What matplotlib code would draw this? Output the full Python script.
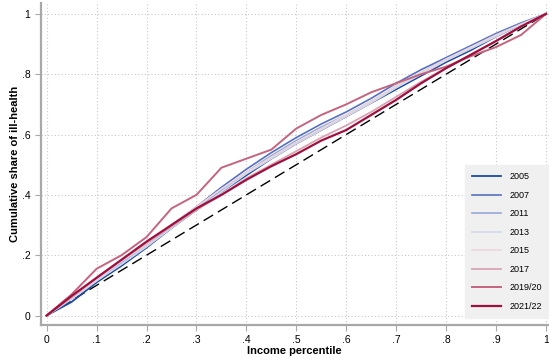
import numpy as np
import matplotlib
matplotlib.use("Agg")
import matplotlib.pyplot as plt

plt.rcParams['font.family'] = ['Liberation Sans', 'DejaVu Sans']

pct = [0, .05, .1, .15, .2, .25, .3, .35, .4, .45, .5, .55, .6, .65, .7, .75, .8, .85, .9, .95, 1]

y2005 = [0, .045, .11, .165, .225, .29, .35, .41, .465, .52, .57, .615, .66, .705, .75, .795, .84, .88, .925, .965, 1]
y2007 = [0, .06, .12, .18, .235, .30, .36, .425, .485, .54, .59, .635, .675, .72, .77, .815, .855, .895, .935, .97, 1]
y2011 = [0, .055, .115, .175, .23, .295, .355, .415, .475, .53, .58, .625, .665, .71, .76, .805, .85, .89, .93, .967, 1]
y2013 = [0, .055, .115, .17, .228, .29, .35, .41, .47, .52, .57, .615, .66, .705, .755, .80, .845, .885, .925, .965, 1]
y2015 = [0, .06, .12, .18, .235, .30, .36, .42, .475, .525, .575, .62, .665, .71, .76, .805, .85, .89, .93, .965, 1]
y2017 = [0, .06, .125, .185, .24, .295, .35, .40, .455, .50, .545, .59, .63, .675, .725, .775, .82, .865, .91, .958, 1]
y2019 = [0, .07, .155, .20, .26, .355, .40, .49, .52, .55, .62, .665, .70, .74, .77, .80, .825, .86, .89, .93, 1]
y2021 = [0, .065, .125, .185, .245, .30, .355, .40, .45, .495, .535, .58, .615, .665, .715, .77, .82, .865, .91, .958, 1]

labels = ['2005', '2007', '2011', '2013', '2015', '2017', '2019/20', '2021/22']
series = [y2005, y2007, y2011, y2013, y2015, y2017, y2019, y2021]
colors = ['#1a4aa0', '#5570c0', '#98a8d8', '#d4d8ea', '#ecd6dc', '#d8a4b4', '#c4647f', '#a0103f']
widths = [1.3, 1.2, 1.2, 1.2, 1.2, 1.3, 1.4, 1.6]

fig = plt.figure(figsize=(5.49, 3.61), dpi=100)
ax = fig.add_axes([0.0741, 0.0997, 0.925, 0.892])

ax.plot([0, 1], [0, 1], color='black', lw=1.0, dashes=(8, 4), zorder=2)
for ys, lab, c, w in zip(series, labels, colors, widths):
    ax.plot(pct, ys, color=c, lw=w, label=lab, zorder=3)

ax.set_xlim(-0.012, 1.005)
ax.set_ylim(-0.0315, 1.036)
xt = np.round(np.arange(0, 1.01, 0.1), 1)
yt = np.round(np.arange(0, 1.01, 0.2), 1)
ax.set_xticks(xt)
ax.set_yticks(yt)
fmt = lambda v: '0' if v == 0 else ('1' if v == 1 else ('%.1f' % v)[1:])
ax.set_xticklabels([fmt(v) for v in xt])
ax.set_yticklabels([fmt(v) for v in yt])
ax.grid(True, color='#c8c8c8', lw=0.8, ls=(0, (1, 2)))
ax.set_axisbelow(True)
for s in ['top', 'right']:
    ax.spines[s].set_visible(False)
for s in ['left', 'bottom']:
    ax.spines[s].set_color('#a8a8a8')
    ax.spines[s].set_linewidth(1.6)
ax.tick_params(colors='#a8a8a8', labelcolor='black', labelsize=7.5, length=4, width=0.8)

ax.set_xlabel('Income percentile', fontsize=8, fontweight='bold', labelpad=0.5)
ax.set_ylabel('Cumulative share of ill-health', fontsize=8, fontweight='bold', labelpad=1)

leg = ax.legend(loc='lower right', bbox_to_anchor=(1.0, 0.119), bbox_transform=fig.transFigure,
                fontsize=6.5, frameon=True, fancybox=False, handlelength=3.2,
                labelspacing=1.05, borderpad=0.8, handletextpad=0.9, borderaxespad=0)
leg.get_frame().set_facecolor('#f0f0f0')
leg.get_frame().set_edgecolor('#f0f0f0')
leg.get_frame().set_alpha(1)

fig.savefig('out.png', dpi=100)
